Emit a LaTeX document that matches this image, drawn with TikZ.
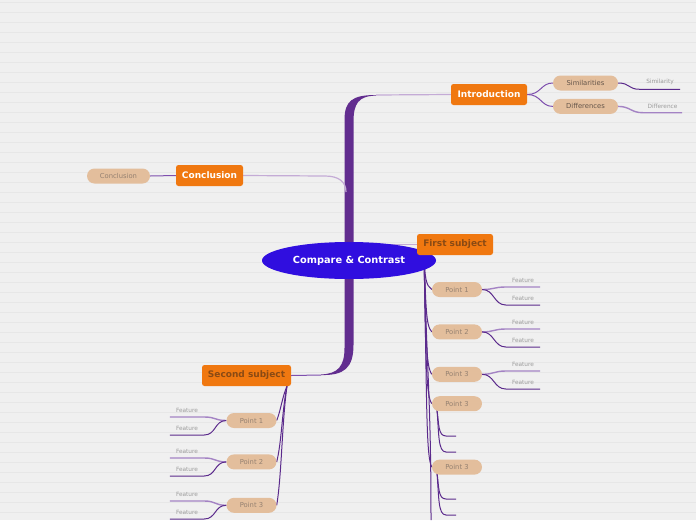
\documentclass[tikz,border=0pt]{standalone}
\usepackage{fontspec}
\setmainfont{DejaVu Sans}
\usetikzlibrary{positioning}
\usetikzlibrary{shapes}

\definecolor{paperbg}{HTML}{F0F0F0}
\definecolor{stripe}{HTML}{E7E7E7}
\definecolor{rootblue}{HTML}{300EDF}
\definecolor{trunkpurple}{HTML}{622D8F}
\definecolor{boxorange}{HTML}{F07810}
\definecolor{pilltan}{HTML}{E3BE9C}
\definecolor{subjbrown}{HTML}{8A4A14}
\definecolor{pilltext}{HTML}{958171}
\definecolor{pilldark}{HTML}{64554A}
\definecolor{leafgray}{HTML}{9C9C9C}
\definecolor{darkline}{HTML}{5B2A8C}
\definecolor{lightline}{HTML}{A483C4}
\definecolor{paleline}{HTML}{C4ABD6}
\definecolor{midline}{HTML}{7E4FAE}

\pgfdeclarelayer{paper}
\pgfdeclarelayer{links}
\pgfsetlayers{paper,links,main}

\begin{document}
\begin{tikzpicture}[
		x=1pt, y=-1pt,
		rootn/.style={ellipse, fill=rootblue, text=white, font=\bfseries\fontsize{9.8}{11}\selectfont, minimum width=174pt, minimum height=37pt, inner sep=0pt},
		topic/.style={rectangle, rounded corners=2.5pt, fill=boxorange, text=white, font=\bfseries\fontsize{9}{10}\selectfont, minimum height=21pt, inner sep=0pt},
		subj/.style={topic, text=subjbrown},
		pill/.style={rectangle, rounded corners=7.5pt, fill=pilltan, text=pilltext, font=\fontsize{6.8}{8}\selectfont, minimum width=50pt, minimum height=15pt, inner sep=0pt},
		feat/.style={anchor=south, text=leafgray, font=\fontsize{5.8}{7}\selectfont, minimum width=34pt, inner xsep=0pt, inner ysep=4.3pt},
		dl/.style={draw=darkline, line width=1pt},
		ll/.style={draw=lightline, line width=1.4pt},
		pl/.style={draw=paleline, line width=1.2pt},
		ml/.style={draw=midline, line width=1pt},
	]
		\useasboundingbox (0,0) rectangle (696,520);
		\begin{pgfonlayer}{paper}
			\fill[paperbg] (0,0) rectangle (696,520);
			\foreach \k in {0,...,51}
				\draw[stripe, line width=0.7pt] (0,2.5+10*\k) -- (696,2.5+10*\k);
		\end{pgfonlayer}

		\node[rootn] (root) at (349,260.5) {Compare \& Contrast};
		\node[topic, minimum width=76pt] (intro) at (489,94.5) {Introduction};
		\node[topic, minimum width=67pt] (concl) at (209.5,175.5) {Conclusion};
		\node[subj, minimum width=76pt] (first) at (455,244.5) {First subject};
		\node[subj, minimum width=89pt] (second) at (246.5,375.5) {Second subject};

		\node[pill, text=pilldark, minimum width=65pt] (simil) at (585.5,83) {Similarities};
		\node[pill, text=pilldark, minimum width=65pt, below=8pt of simil] (diffs) {Differences};
		\node[pill, minimum width=63pt] (concleaf) at (118.5,176) {Conclusion};

		\node[pill] (fp1) at (457,289.5) {Point 1};
		\node[pill, below=27pt of fp1] (fp2) {Point 2};
		\node[pill, below=27pt of fp2] (fp3) {Point 3};
		\node[pill, below=14pt of fp3] (fp4) {Point 3};
		\node[pill, below=48pt of fp4] (fp5) {Point 3};

		\node[pill] (sp1) at (251.5,420.5) {Point 1};
		\node[pill, below=26pt of sp1] (sp2) {Point 2};
		\node[pill, below=28pt of sp2] (sp3) {Point 3};

		\node[feat, minimum width=40pt] (simlf) at (660,89.3) {Similarity};
		\node[feat, minimum width=39pt] (diflf) at (662.5,112.7) {Difference};

		\node[feat] (f1a) at (523,287) {Feature};
		\node[feat] (f1b) at (523,305) {Feature};
		\node[feat] (f2a) at (523,329) {Feature};
		\node[feat] (f2b) at (523,347) {Feature};
		\node[feat] (f3a) at (523,371) {Feature};
		\node[feat] (f3b) at (523,389) {Feature};

		\node[feat] (s1a) at (187,417) {Feature};
		\node[feat] (s1b) at (187,435) {Feature};
		\node[feat] (s2a) at (187,458) {Feature};
		\node[feat] (s2b) at (187,476) {Feature};
		\node[feat] (s3a) at (187,501) {Feature};
		\node[feat] (s3b) at (187,519) {Feature};

		% joints and loose ends
		\coordinate (tjtop) at (376,95);
		\coordinate (tjbot) at (321,375);
		\coordinate (cj) at (325,176);
		\coordinate (cj2) at (346,192);
		\coordinate (fs) at (424,256);
		\coordinate (fout) at (431,520);
		\coordinate (ss) at (287,386);
		\coordinate (q4) at (437,410);
		\coordinate (q4a) at (446,436);
		\coordinate (q4b) at (456,436);
		\coordinate (q4c) at (446,452);
		\coordinate (q4d) at (456,452);
		\coordinate (q5) at (437,473);
		\coordinate (q5a) at (446,499);
		\coordinate (q5b) at (456,499);
		\coordinate (q5c) at (446,515);
		\coordinate (q5d) at (456,515);

		\begin{pgfonlayer}{links}
			\fill[trunkpurple] (344.5,200) -- (344.5,120) .. controls (344.5,101) and (352,95) .. (tjtop) -- (376,95.6) .. controls (358,96) and (353.5,104) .. (353.5,122) -- (353.5,345) .. controls (353.5,368) and (344,375.6) .. (tjbot) -- (321,374.4) .. controls (338,374) and (344.5,366) .. (344.5,348) -- cycle;
			\draw[pl] (tjtop) -- (intro.west);
			\draw[pl] (concl.east) -- (cj) .. controls +(14,0) and +(0,-10) .. (cj2);
			\draw[ml] (second.east) -- (tjbot);
			\draw[pl] (first.west) -- (first.west -| root.center);

			\draw[ml] (intro.east) .. controls +(14,0) and +(-12,0) .. (simil.west);
			\draw[ml] (intro.east) .. controls +(14,0) and +(-12,0) .. (diffs.west);
			\draw[dl] (simil.east) .. controls +(12,0) and +(-12,0) .. (simlf.south west) -- (simlf.south east);
			\draw[ll] (diffs.east) .. controls +(12,0) and +(-12,0) .. (diflf.south west) -- (diflf.south east);
			\draw[ml] (concl.west) -- (concleaf.east);

			\draw[dl] (fs) .. controls +(1,22) and +(-6,-4) .. (fp1.west);
			\draw[dl] (fs) .. controls +(2,50) and +(-6,-6) .. (fp2.west);
			\draw[dl] (fs) .. controls +(2,80) and +(-6,-8) .. (fp3.west);
			\draw[dl] (fs) .. controls +(2,100) and +(-6,-8) .. (fp4.west);
			\draw[dl] (fs) .. controls +(3,140) and +(-6,-10) .. (fp5.west);
			\draw[dl] (fs) .. controls +(3,120) and +(0,-120) .. (fout);

			\draw[ll] (fp1.east) .. controls +(12,0) and +(-12,0) .. (f1a.south west) -- (f1a.south east);
			\draw[dl] (fp1.east) .. controls +(12,0) and +(-12,0) .. (f1b.south west) -- (f1b.south east);
			\draw[ll] (fp2.east) .. controls +(12,0) and +(-12,0) .. (f2a.south west) -- (f2a.south east);
			\draw[dl] (fp2.east) .. controls +(12,0) and +(-12,0) .. (f2b.south west) -- (f2b.south east);
			\draw[ll] (fp3.east) .. controls +(12,0) and +(-12,0) .. (f3a.south west) -- (f3a.south east);
			\draw[dl] (fp3.east) .. controls +(12,0) and +(-12,0) .. (f3b.south west) -- (f3b.south east);

			\draw[dl] (q4) .. controls +(2,14) and +(-8,0) .. (q4a) -- (q4b);
			\draw[dl] (q4) .. controls +(2,24) and +(-8,0) .. (q4c) -- (q4d);
			\draw[dl] (q5) .. controls +(2,14) and +(-8,0) .. (q5a) -- (q5b);
			\draw[dl] (q5) .. controls +(2,24) and +(-8,0) .. (q5c) -- (q5d);

			\draw[dl] (ss) .. controls +(-5,12) and +(4,-10) .. (sp1.east);
			\draw[dl] (ss) .. controls +(-5,25) and +(5,-20) .. (sp2.east);
			\draw[dl] (ss) .. controls +(-5,35) and +(5,-30) .. (sp3.east);

			\draw[ll] (sp1.west) .. controls +(-12,0) and +(12,0) .. (s1a.south east) -- (s1a.south west);
			\draw[dl] (sp1.west) .. controls +(-12,0) and +(12,0) .. (s1b.south east) -- (s1b.south west);
			\draw[ll] (sp2.west) .. controls +(-12,0) and +(12,0) .. (s2a.south east) -- (s2a.south west);
			\draw[dl] (sp2.west) .. controls +(-12,0) and +(12,0) .. (s2b.south east) -- (s2b.south west);
			\draw[ll] (sp3.west) .. controls +(-12,0) and +(12,0) .. (s3a.south east) -- (s3a.south west);
			\draw[dl] (sp3.west) .. controls +(-12,0) and +(12,0) .. (s3b.south east) -- (s3b.south west);
		\end{pgfonlayer}
	\end{tikzpicture}
\end{document}
